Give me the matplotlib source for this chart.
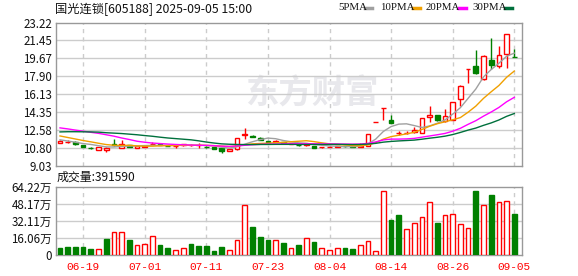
import numpy as np
import matplotlib
matplotlib.use("Agg")
import matplotlib.pyplot as plt
from matplotlib.lines import Line2D

plt.rcParams['font.family'] = ['Noto Sans CJK SC', 'DejaVu Sans']

# ---- data ----
title = "国光连锁[605188] 2025-09-05 15:00"
dates = ['06-16', '06-17', '06-18', '06-19', '06-20', '06-23', '06-24', '06-25', '06-26', '06-27',
         '06-30', '07-01', '07-02', '07-03', '07-04', '07-07', '07-08', '07-09', '07-10', '07-11',
         '07-14', '07-15', '07-16', '07-17', '07-18', '07-21', '07-22', '07-23', '07-24', '07-25',
         '07-28', '07-29', '07-30', '07-31', '08-01', '08-04', '08-05', '08-06', '08-07', '08-08',
         '08-11', '08-12', '08-13', '08-14', '08-15', '08-18', '08-19', '08-20', '08-21', '08-22',
         '08-25', '08-26', '08-27', '08-28', '08-29', '09-01', '09-02', '09-03', '09-04', '09-05']
opens = [11.28, 11.40, 11.38, 11.11, 10.84, 10.59, 10.65, 11.17, 10.82, 11.08,
         10.85, 10.95, 11.18, 11.18, 11.03, 10.98, 11.10, 11.09, 11.08, 10.95,
         10.88, 10.80, 10.56, 10.68, 12.10, 11.99, 11.84, 11.48, 11.44, 11.42,
         11.22, 11.15, 11.08, 11.01, 10.88, 10.92, 10.93, 11.02, 10.98, 10.95,
         11.03, 13.38, 14.72, 13.59, 12.25, 12.26, 12.42, 12.30, 13.88, 14.08,
         13.45, 13.62, 15.68, 18.63, 18.88, 17.62, 19.52, 18.90, 20.12, 19.85]
highs = [11.56, 11.58, 11.48, 11.14, 10.94, 10.92, 10.86, 11.71, 11.64, 11.15,
         10.99, 11.06, 11.41, 11.24, 11.06, 11.04, 11.22, 11.20, 11.34, 10.98,
         10.92, 10.82, 10.72, 11.80, 12.77, 12.05, 11.88, 11.55, 11.58, 11.45,
         11.34, 11.18, 11.28, 11.03, 10.95, 10.98, 11.00, 11.04, 11.00, 11.28,
         12.16, 13.38, 14.72, 14.09, 12.50, 12.45, 12.93, 13.78, 14.98, 14.10,
         14.62, 15.40, 17.00, 18.63, 20.46, 19.98, 21.66, 20.87, 22.10, 20.62]
lows = [11.26, 11.28, 11.08, 10.86, 10.69, 10.57, 10.45, 11.01, 10.80, 10.90,
        10.80, 10.92, 11.08, 11.08, 10.96, 10.85, 11.05, 11.00, 10.84, 10.85,
        10.74, 10.35, 10.52, 10.66, 11.68, 11.85, 11.58, 11.38, 11.38, 11.28,
        11.18, 11.00, 11.01, 10.82, 10.85, 10.88, 10.90, 10.93, 10.88, 10.92,
        11.00, 13.38, 13.60, 13.25, 12.10, 12.15, 12.33, 12.25, 13.42, 13.50,
        13.40, 13.58, 14.98, 17.24, 18.15, 17.55, 18.63, 18.73, 18.73, 19.78]
closes = [11.54, 11.42, 11.18, 10.88, 10.80, 10.91, 10.84, 11.12, 11.16, 10.95,
          10.98, 11.04, 11.22, 11.14, 11.00, 11.02, 11.18, 11.12, 11.10, 10.88,
          10.76, 10.55, 10.70, 11.78, 12.18, 11.94, 11.61, 11.44, 11.47, 11.30,
          11.31, 11.08, 11.22, 10.85, 10.93, 10.95, 10.98, 10.96, 10.92, 11.05,
          12.16, 13.38, 14.72, 13.32, 12.28, 12.30, 12.55, 13.76, 14.05, 13.62,
          13.99, 15.38, 16.97, 18.63, 18.25, 19.95, 19.05, 20.05, 22.09, 19.80]
prev_close = 11.70  # close of the day before the window

# volume in 万手
volumes = [6.6, 7.5, 7.5, 7.5, 5.7, 5.4, 15.1, 21.4, 21.4, 14.2,
           9.1, 10.1, 17.6, 9.4, 6.6, 4.4, 6.3, 10.4, 8.5, 8.5,
           3.8, 7.5, 4.4, 13.8, 46.9, 26.4, 17.0, 14.2, 13.8, 11.3,
           6.3, 9.4, 15.7, 12.3, 6.3, 4.4, 6.3, 6.6, 5.7, 9.1,
           12.9, 3.5, 60.1, 33.0, 37.8, 24.2, 29.9, 35.6, 49.7, 30.2,
           37.5, 38.4, 29.0, 25.2, 60.4, 46.9, 56.6, 49.7, 50.7, 39.159]

ma5 = [11.62, 11.50, 11.38, 11.25, 11.16, 11.04, 10.92, 10.91, 10.97, 11.00,
       11.01, 11.05, 11.07, 11.07, 11.08, 11.08, 11.11, 11.09, 11.08, 11.06,
       11.01, 10.88, 10.80, 10.93, 11.19, 11.43, 11.64, 11.79, 11.73, 11.55,
       11.43, 11.32, 11.28, 11.15, 11.08, 11.01, 10.99, 10.93, 10.95, 10.97,
       11.21, 11.69, 12.45, 12.93, 13.17, 13.20, 13.03, 12.84, 12.99, 13.26,
       13.59, 14.16, 14.80, 15.72, 16.64, 17.84, 18.57, 19.19, 19.88, 20.19]
ma10 = [12.00, 11.85, 11.70, 11.55, 11.42, 11.28, 11.15, 11.08, 11.06, 11.08,
        11.02, 10.99, 10.99, 11.02, 11.04, 11.05, 11.08, 11.08, 11.08, 11.07,
        11.05, 11.00, 10.95, 11.01, 11.13, 11.22, 11.26, 11.29, 11.33, 11.37,
        11.43, 11.48, 11.53, 11.44, 11.32, 11.22, 11.15, 11.11, 11.05, 11.03,
        11.11, 11.34, 11.69, 11.94, 12.07, 12.21, 12.36, 12.64, 12.96, 13.21,
        13.40, 13.60, 13.82, 14.35, 14.95, 15.72, 16.37, 16.99, 17.80, 18.42]
ma20 = [12.80, 12.70, 12.58, 12.47, 12.36, 12.26, 12.12, 11.98, 11.80, 11.65,
        11.48, 11.38, 11.30, 11.25, 11.20, 11.16, 11.13, 11.10, 11.08, 11.07,
        11.04, 10.99, 10.97, 11.01, 11.08, 11.13, 11.17, 11.19, 11.20, 11.22,
        11.24, 11.24, 11.24, 11.23, 11.22, 11.22, 11.21, 11.20, 11.19, 11.20,
        11.27, 11.41, 11.61, 11.69, 11.69, 11.71, 11.76, 11.88, 12.00, 12.12,
        12.25, 12.47, 12.76, 13.15, 13.51, 13.96, 14.37, 14.82, 15.38, 15.82]
ma30 = [12.40, 12.42, 12.42, 12.41, 12.40, 12.38, 12.32, 12.28, 12.24, 12.18,
        12.12, 12.04, 11.97, 11.88, 11.80, 11.74, 11.68, 11.62, 11.52, 11.40,
        11.30, 11.22, 11.18, 11.16, 11.15, 11.15, 11.16, 11.16, 11.17, 11.17,
        11.17, 11.16, 11.16, 11.16, 11.16, 11.16, 11.17, 11.16, 11.15, 11.16,
        11.20, 11.27, 11.39, 11.46, 11.51, 11.55, 11.59, 11.68, 11.78, 11.87,
        11.98, 12.14, 12.35, 12.58, 12.78, 13.05, 13.29, 13.58, 13.94, 14.22]

ma_names = ['5PMA', '10PMA', '20PMA', '30PMA']
price_ticks = [9.03, 10.80, 12.58, 14.35, 16.13, 17.90, 19.67, 21.45, 23.22]
vol_ticks = [0, 16.06, 32.11, 48.17, 64.22]
tick_dates = ['06-19', '07-01', '07-11', '07-23', '08-04', '08-14', '08-26', '09-05']

# ---- style ----
RED = '#ff0000'
GREEN = '#008000'
MA_COLORS = ['#a0a0a0', '#f0a000', '#ff00ff', '#00703c']
FRAME = '#999999'
GRID = '#cccccc'

W, H = 578, 276
fig = plt.figure(figsize=(W / 100, H / 100), dpi=100)


def box(l, t, r, b):
    return [l / W, 1 - b / H, (r - l) / W, (b - t) / H]


ax = fig.add_axes(box(56, 22.5, 522, 166))
axv = fig.add_axes(box(56, 187, 522, 255))

x = np.arange(len(dates))
tick_pos = [dates.index(d) for d in tick_dates]

for a in (ax, axv):
    a.set_xlim(-0.52, len(dates))
    for s in a.spines.values():
        s.set_color(FRAME)
        s.set_linewidth(1)
    for p in tick_pos:
        a.axvline(p, color=GRID, lw=1, ls=(0, (3, 3)), zorder=0)
    a.tick_params(length=0, labelsize=8.3, colors='#111111', pad=3)

# watermark
ax.text(0.55, 0.50, "东方财富", transform=ax.transAxes, fontsize=24, fontweight='bold',
        color='#e8e8ec', ha='center', va='center', zorder=0)

# price panel
ax.set_ylim(price_ticks[0], price_ticks[-1])
ax.set_yticks(price_ticks)
ax.set_yticklabels([f"{t:.2f}" for t in price_ticks])
for t in price_ticks[1:-1]:
    ax.axhline(t, color=GRID, lw=1, zorder=0)
ax.set_xticks([])

for i in x:
    o, h, l, c = opens[i], highs[i], lows[i], closes[i]
    col = RED if c >= o else GREEN
    ax.vlines(i, l, h, color=col, lw=1, zorder=3)
    ax.bar(i, max(abs(c - o), 0.001), bottom=min(o, c), width=0.6,
           facecolor='white' if c >= o else col, edgecolor=col, lw=1, zorder=4)

for vals, col in zip([ma5, ma10, ma20, ma30], MA_COLORS):
    ax.plot(x, vals, color=col, lw=1, zorder=5)

# volume panel
prev = [prev_close] + closes[:-1]
for i in x:
    up = closes[i] >= prev[i]
    col = RED if up else GREEN
    axv.bar(i, volumes[i], width=0.62, facecolor='white' if up else col,
            edgecolor=col, lw=1, zorder=3)
axv.set_ylim(vol_ticks[0], vol_ticks[-1])
axv.set_yticks(vol_ticks)
axv.set_yticklabels(['0'] + [f"{t:.2f}万" for t in vol_ticks[1:]])
for t in vol_ticks[1:-1]:
    axv.axhline(t, color=GRID, lw=1, zorder=0)
axv.set_xticks(tick_pos)
axv.set_xticklabels(tick_dates, color=RED, fontsize=8, family='Liberation Mono')
axv.tick_params(axis='x', pad=5)

# texts
fig.text(55 / W, 1 - 9 / H, title, fontsize=8.8, va='center', ha='left', color='#111111')
fig.text(57 / W, 1 - 177 / H, f"成交量:{int(round(volumes[-1] * 1e4))}", fontsize=8.6,
         va='center', ha='left', color='#111111')

legend_x = [338, 380, 426, 472]
for lx, name, col in zip(legend_x, ma_names, MA_COLORS):
    fig.text(lx / W, 1 - 8 / H, name, fontsize=7.8, family='Liberation Serif',
             va='center', ha='left', color='#111111')
    dash_l = lx + (27 if name == '5PMA' else 33)
    fig.add_artist(Line2D([dash_l / W, (dash_l + 7) / W], [1 - 8 / H, 1 - 8 / H],
                          color=col, lw=2.5, transform=fig.transFigure))

fig.savefig("out.png", dpi=100)
